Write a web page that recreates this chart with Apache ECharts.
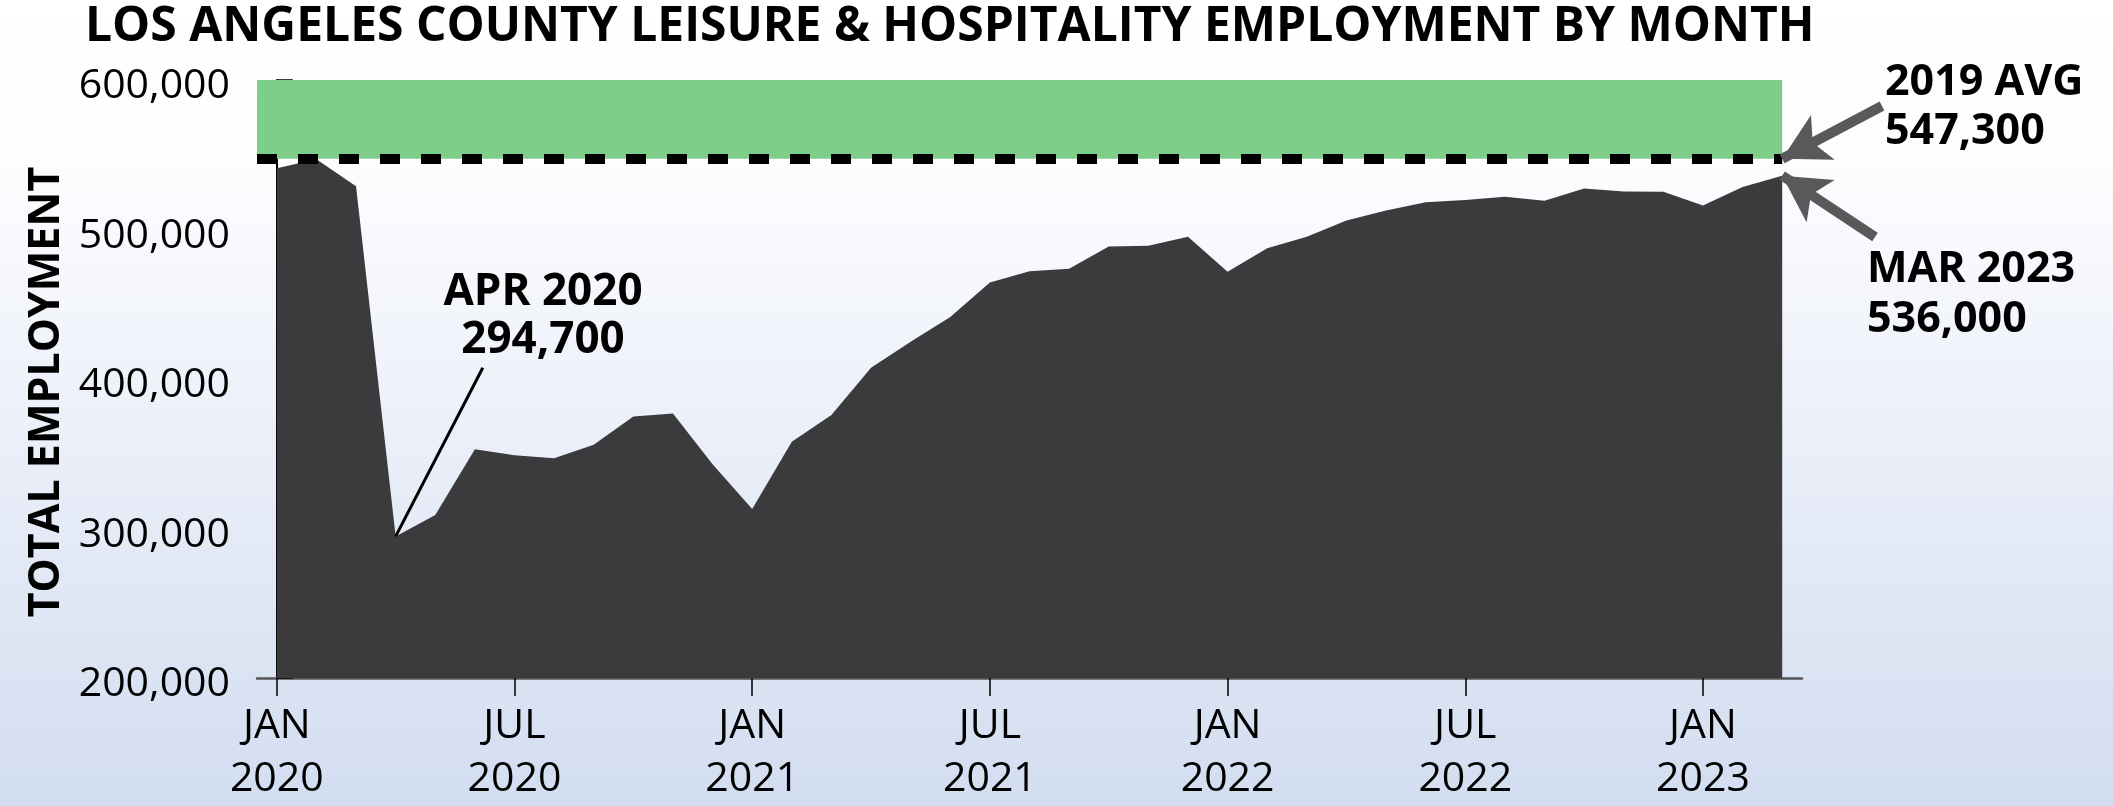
<!DOCTYPE html>
<html lang="en">
<head>
<meta charset="UTF-8" />
<title>LA County Leisure & Hospitality Employment</title>
<script src="https://cdn.jsdelivr.net/npm/echarts@6.0.0/dist/echarts.min.js"></script>
<style>
  html, body { margin: 0; padding: 0; background: #fff; }
  #chart { width: 2113px; height: 806px; }
</style>
</head>
<body>
<div id="chart"></div>
<script>
  // monthly data, Jan 2020 .. Mar 2023
  var months = [
    'JAN 2020', 'FEB 2020', 'MAR 2020', 'APR 2020', 'MAY 2020', 'JUN 2020',
    'JUL 2020', 'AUG 2020', 'SEP 2020', 'OCT 2020', 'NOV 2020', 'DEC 2020',
    'JAN 2021', 'FEB 2021', 'MAR 2021', 'APR 2021', 'MAY 2021', 'JUN 2021',
    'JUL 2021', 'AUG 2021', 'SEP 2021', 'OCT 2021', 'NOV 2021', 'DEC 2021',
    'JAN 2022', 'FEB 2022', 'MAR 2022', 'APR 2022', 'MAY 2022', 'JUN 2022',
    'JUL 2022', 'AUG 2022', 'SEP 2022', 'OCT 2022', 'NOV 2022', 'DEC 2022',
    'JAN 2023', 'FEB 2023', 'MAR 2023'
  ];
  var employment = [
    541000, 547000, 529000, 294700, 309000, 353000,
    349000, 347000, 356000, 375000, 377000, 343000,
    313000, 358000, 376000, 407500, 425000, 441400,
    464500, 472100, 473700, 488600, 489200, 495100,
    471700, 487500, 495100, 506100, 512700, 518200,
    519700, 521900, 519300, 527400, 525500, 525200,
    516000, 528500, 536000
  ];
  var tickMonths = [0, 6, 12, 18, 24, 30, 36];
  var avg2019 = 547300;
  var yMin = 200000, yMax = 600000, yStep = 100000;

  var lowIdx = 3;
  var lastIdx = months.length - 1;

  var seriesData = employment.map(function (v, i) { return [i, v]; });

  function fmt(n) {
    return n.toString().replace(/\B(?=(\d{3})+(?!\d))/g, ',');
  }

  var arrowStyle = { color: '#59595b', width: 10, type: 'solid', cap: 'butt' };

  var chart = echarts.init(document.getElementById('chart'));

  var option = {
    animation: false,
    backgroundColor: new echarts.graphic.LinearGradient(0, 0, 0, 1, [
      { offset: 0, color: '#ffffff' },
      { offset: 0.2, color: '#fdfdff' },
      { offset: 1, color: '#d2ddf0' }
    ]),
    textStyle: { fontFamily: 'Open Sans' },
    title: {
      text: 'LOS ANGELES COUNTY LEISURE & HOSPITALITY EMPLOYMENT BY MONTH',
      left: 80,
      top: -2,
      textStyle: { fontFamily: 'Open Sans', fontSize: 48, fontWeight: 'bold', color: '#000' }
    },
    grid: { left: 257, right: 311, top: 80, bottom: 119 },
    xAxis: {
      type: 'value',
      min: -0.5,
      max: lastIdx + 0.5,
      splitLine: { show: false },
      axisLine: { show: true, lineStyle: { color: '#555', width: 2.5 } },
      axisTick: {
        show: true, length: 18, customValues: tickMonths,
        lineStyle: { color: '#000', width: 1.5 }
      },
      axisLabel: {
        customValues: tickMonths,
        formatter: function (v) { return months[Math.round(v)].replace(' ', '\n'); },
        fontSize: 41, lineHeight: 53, color: '#000', margin: 22
      }
    },
    yAxis: {
      type: 'value',
      min: yMin, max: yMax, interval: yStep,
      name: 'TOTAL EMPLOYMENT',
      nameLocation: 'middle',
      nameRotate: 90,
      nameGap: 189,
      nameTextStyle: { fontSize: 43, fontWeight: 'bold', color: '#000', padding: [0, 26, 0, 0] },
      splitLine: { show: false },
      axisLine: { show: true, lineStyle: { color: '#000', width: 2 } },
      axisTick: { show: true, inside: true, length: 16, lineStyle: { color: '#000', width: 1.5 } },
      axisLabel: {
        formatter: fmt, fontSize: 41, color: '#000', margin: 27,
        verticalAlign: 'top', lineHeight: 13
      }
    },
    series: [{
      type: 'line',
      data: seriesData,
      symbol: 'none',
      clip: false,
      lineStyle: { width: 0 },
      areaStyle: { color: '#3b3b3d', opacity: 1, origin: 'start' },
      markArea: {
        silent: true,
        itemStyle: { color: '#7dcd8b' },
        data: [[{ xAxis: -0.5, yAxis: avg2019 }, { xAxis: lastIdx, yAxis: yMax }]]
      },
      markLine: {
        silent: true,
        symbol: 'none',
        label: { show: false },
        data: [
          [
            { coord: [-0.5, avg2019], lineStyle: { color: '#000', width: 10, type: [20, 21], cap: 'butt' } },
            { coord: [lastIdx, avg2019] }
          ],
          [
            { coord: [lowIdx, employment[lowIdx]], lineStyle: { color: '#000', width: 3, type: 'solid' } },
            { coord: [5.2, 407500] }
          ],
          [
            { x: 1882, y: 106, lineStyle: arrowStyle },
            { coord: [lastIdx, avg2019], symbol: 'arrow', symbolSize: [38, 46] }
          ],
          [
            { x: 1875, y: 237, lineStyle: arrowStyle },
            { coord: [lastIdx, employment[lastIdx]], symbol: 'arrow', symbolSize: [38, 46] }
          ]
        ]
      }
    }],
    graphic: [
      {
        type: 'text', x: 543, y: 268,
        style: {
          text: months[lowIdx] + '\n' + fmt(employment[lowIdx]),
          align: 'center', fontFamily: 'Open Sans', fontSize: 44, fontWeight: 'bold',
          lineHeight: 48, fill: '#000'
        }
      },
      {
        type: 'text', x: 1885, y: 58,
        style: {
          text: '2019 AVG\n' + fmt(avg2019),
          fontFamily: 'Open Sans', fontSize: 43, fontWeight: 'bold', lineHeight: 49, fill: '#000'
        }
      },
      {
        type: 'text', x: 1867, y: 245,
        style: {
          text: months[lastIdx] + '\n' + fmt(employment[lastIdx]),
          fontFamily: 'Open Sans', fontSize: 43, fontWeight: 'bold', lineHeight: 50, fill: '#000'
        }
      }
    ]
  };

  chart.setOption(option);
</script>
</body>
</html>
